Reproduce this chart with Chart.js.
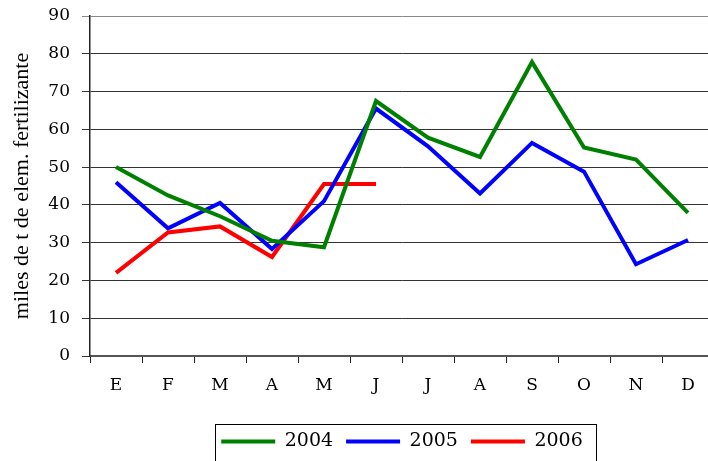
<!DOCTYPE html>
<html>
<head>
<meta charset="utf-8">
<script src="https://cdn.jsdelivr.net/npm/chart.js@4/dist/chart.umd.min.js"></script>
<style>
  html, body { margin: 0; padding: 0; background: #fff; overflow: hidden; }
  #wrap { width: 714px; height: 461px; }
</style>
</head>
<body>
<div id="wrap"><canvas id="chart"></canvas></div>
<script>
const months = ["E", "F", "M", "A", "M", "J", "J", "A", "S", "O", "N", "D"]
const years = ["2004", "2005", "2006"]
const values2004 = [50, 42.5, 37, 30.5, 28.8, 67.5, 57.8, 52.7, 77.8, 55.2, 52, 37.9]
const values2005 = [46, 33.8, 40.5, 28.3, 41, 65.5, 55.5, 43, 56.4, 48.8, 24.3, 30.7]
const values2006 = [22, 32.7, 34.3, 26.2, 45.5, 45.5]
const yTicks = [0, 10, 20, 30, 40, 50, 60, 70, 80, 90]

const serif = "'DejaVu Serif', 'Liberation Serif', serif"

// box around the legend, like the spreadsheet original
const legendFrame = {
  id: "legendFrame",
  afterDraw(chart) {
    const boxes = chart.legend && chart.legend.legendHitBoxes
    if (!boxes || !boxes.length) return
    const left = Math.min(...boxes.map(b => b.left)) - 6
    const right = Math.max(...boxes.map(b => b.left + b.width)) + 13
    const top = Math.min(...boxes.map(b => b.top)) - 8
    const ctx = chart.ctx
    ctx.save()
    ctx.strokeStyle = "#000"
    ctx.lineWidth = 1
    ctx.strokeRect(Math.round(left) + 0.5, Math.round(top) + 0.5, Math.round(right - left), 60)
    ctx.restore()
  }
}

function line(label, data, color) {
  return {
    label: label,
    data: data,
    borderColor: color,
    backgroundColor: color,
    borderWidth: 4,
    pointRadius: 0,
    tension: 0,
    fill: false
  }
}

new Chart(document.getElementById("chart"), {
  type: "line",
  data: {
    labels: months,
    datasets: [
      line(years[0], values2004, "#008000"),
      line(years[1], values2005, "#0000FF"),
      line(years[2], values2006, "#FF0000")
    ]
  },
  plugins: [legendFrame],
  options: {
    responsive: true,
    maintainAspectRatio: false,
    animation: false,
    layout: {
      padding: { top: 16, right: 0, left: 0, bottom: 0 }
    },
    plugins: {
      legend: {
        position: "bottom",
        fullSize: false,
        labels: {
          color: "#000",
          boxWidth: 54,
          boxHeight: 4,
          padding: 13,
          font: { family: serif, size: 19 },
          generateLabels: chart => Chart.defaults.plugins.legend.labels.generateLabels(chart)
            .map(item => Object.assign(item, { lineWidth: 0 }))
        }
      },
      tooltip: { enabled: false }
    },
    scales: {
      x: {
        offset: true,
        afterFit: s => { s.height = 63; s.paddingLeft = 0; s.paddingRight = 0 },
        border: { color: "#555", width: 2 },
        grid: {
          offset: true,
          drawOnChartArea: false,
          drawTicks: true,
          tickLength: 7,
          color: "#222"
        },
        ticks: {
          color: "#000",
          padding: 12,
          font: { family: serif, size: 17 }
        }
      },
      y: {
        min: 0,
        max: 90,
        afterFit: s => { s.width = 90; s.paddingTop = 0; s.paddingBottom = 0 },
        afterBuildTicks: s => { s.ticks = yTicks.map(v => ({ value: v })) },
        border: { color: "#222", width: 1.5 },
        grid: {
          tickLength: 8,
          color: ctx => ctx.tick && ctx.tick.value === 90 ? "#888" : "#333",
          lineWidth: 1
        },
        ticks: {
          color: "#000",
          padding: 12,
          font: { family: serif, size: 17 }
        },
        title: {
          display: true,
          text: "miles de t de elem. fertilizante",
          color: "#000",
          padding: { top: 9, bottom: 4 },
          font: { family: "'Liberation Serif', serif", size: 22 }
        }
      }
    }
  }
})
</script>
</body>
</html>
